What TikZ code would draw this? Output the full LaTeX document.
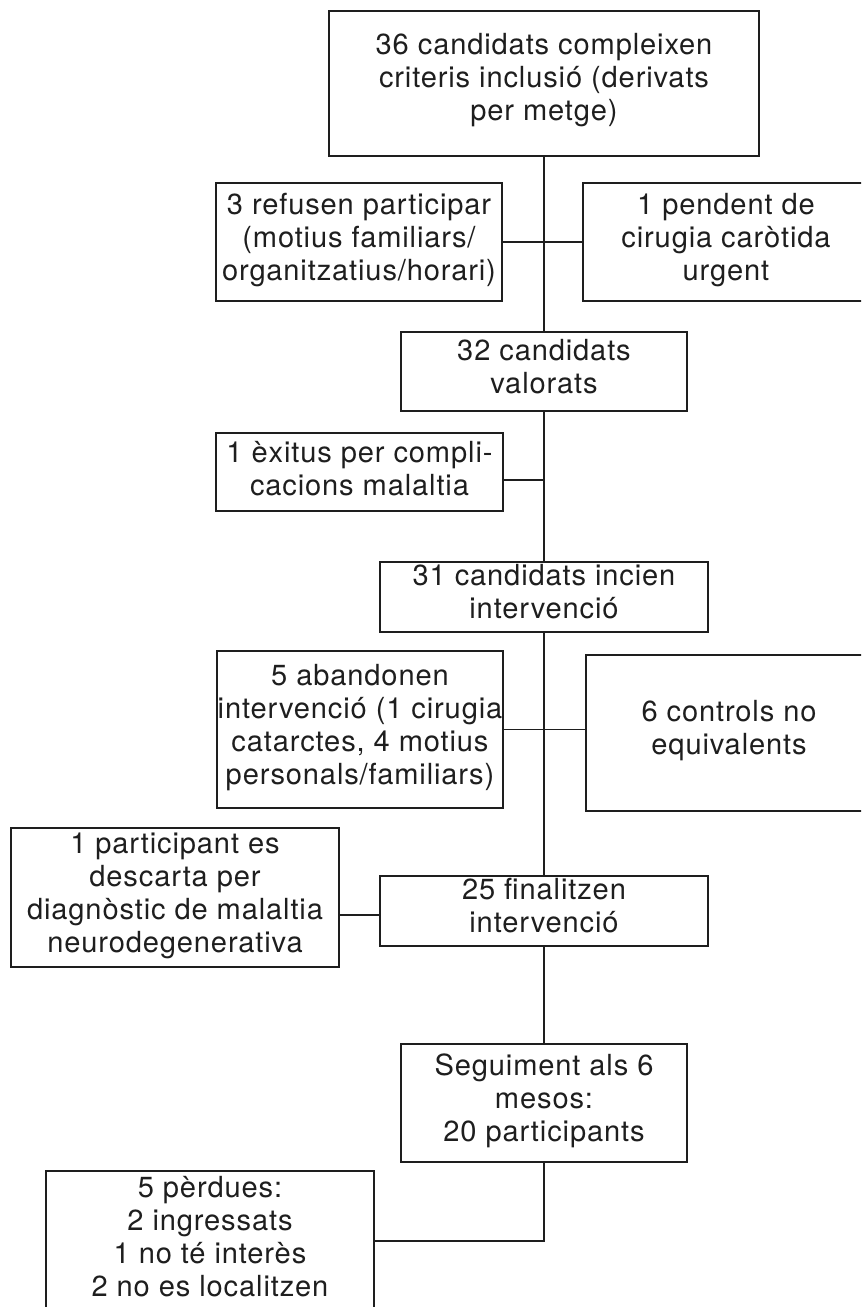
\documentclass[tikz,border=0pt]{standalone}
\usepackage{fontspec}
\setmainfont{TeX Gyre Heros}[LetterSpace=3]
\definecolor{ink}{HTML}{1E1E1E}
\tikzset{
  box/.style={draw=ink, line width=1.1pt, rectangle, inner sep=0pt},
  txt/.style={anchor=base, align=center, inner sep=0pt, text=ink,
              font=\fontsize{21.8}{24.75}\selectfont},
  link/.style={draw=ink, line width=1pt}
}
\begin{document}
\begin{tikzpicture}[x=0.75pt,y=-0.75pt]
\useasboundingbox (0,0) rectangle (861,1307);
\begin{scope}
\clip (0,0) rectangle (861,1307);
% boxes
\node[box, minimum width=322.5pt, minimum height=108.75pt] (A) at (544,83.5) {};
\node[box, minimum width=214.5pt, minimum height=88.5pt] (B) at (359,242) {};
\node[box, minimum width=214.5pt, minimum height=88.5pt] (C) at (726,242) {};
\node[box, minimum width=214.5pt, minimum height=59.25pt] (D) at (544,371.5) {};
\node[box, minimum width=215.25pt, minimum height=58.5pt] (E) at (359.5,472) {};
\node[box, minimum width=246pt, minimum height=52.5pt] (F) at (544,597) {};
\node[box, minimum width=214.5pt, minimum height=117.75pt] (G) at (360,729.5) {};
\node[box, minimum width=214.5pt, minimum height=117pt] (H) at (729,733) {};
\node[box, minimum width=246pt, minimum height=104.25pt] (I) at (175,897.5) {};
\node[box, minimum width=246pt, minimum height=52.5pt] (J) at (544,911) {};
\node[box, minimum width=214.5pt, minimum height=88.5pt] (K) at (544,1103) {};
\node[box, minimum width=246pt, minimum height=119.25pt] (L) at (210,1250.5) {};
% texts (anchored at the baseline of the last line)
\node[txt] (At) at (544,120) {36 candidats compleixen\\criteris inclusió (derivats\\per metge)};
\node[txt] (Bt) at (359,280) {3 refusen participar\\(motius familiars/\\organitzatius/horari)};
\node[txt] (Ct) at (726,280) {1 pendent de\\cirugia caròtida\\urgent};
\node[txt] (Dt) at (544,393) {32 candidats\\valorats};
\node[txt] (Et) at (359.5,495) {1 èxitus per compli-\\cacions malaltia};
\node[txt] (Ft) at (544,618.5) {31 candidats incien\\intervenció};
\node[txt] (Gt) at (360,784) {5 abandonen\\intervenció (1 cirugia\\catarctes, 4 motius\\personals/familiars)};
\node[txt] (Ht) at (729,754.5) {6 controls no\\equivalents};
\node[txt] (It) at (175,952) {1 participant es\\descarta per\\diagnòstic de malaltia\\neurodegenerativa};
\node[txt] (Jt) at (544,932.5) {25 finalitzen\\intervenció};
\node[txt] (Kt) at (544,1141) {Seguiment als 6\\mesos:\\20 participants};
\node[txt] (Lt) at (210,1296) {5 pèrdues:\\2 ingressats\\1 no té interès\\2 no es localitzen};
% connectors
\coordinate (j2) at (544,480);
\coordinate (j3) at (360,915);
\coordinate (j4) at (544,1241);
\draw[link] (A.south) -- (D.north);
\draw[link] (B.east) -- (C.west);
\draw[link] (D.south) -- (F.north);
\draw[link] (E.east |- j2) -- (j2);
\draw[link] (F.south) -- (J.north);
\draw[link] (G.east) -- (G.east -| H.west);
\draw[link] (I.east |- j3) -- (J.west |- j3);
\draw[link] (J.south) -- (K.north);
\draw[link] (K.south) -- (j4) -- (L.east |- j4);
\end{scope}
\end{tikzpicture}
\end{document}
